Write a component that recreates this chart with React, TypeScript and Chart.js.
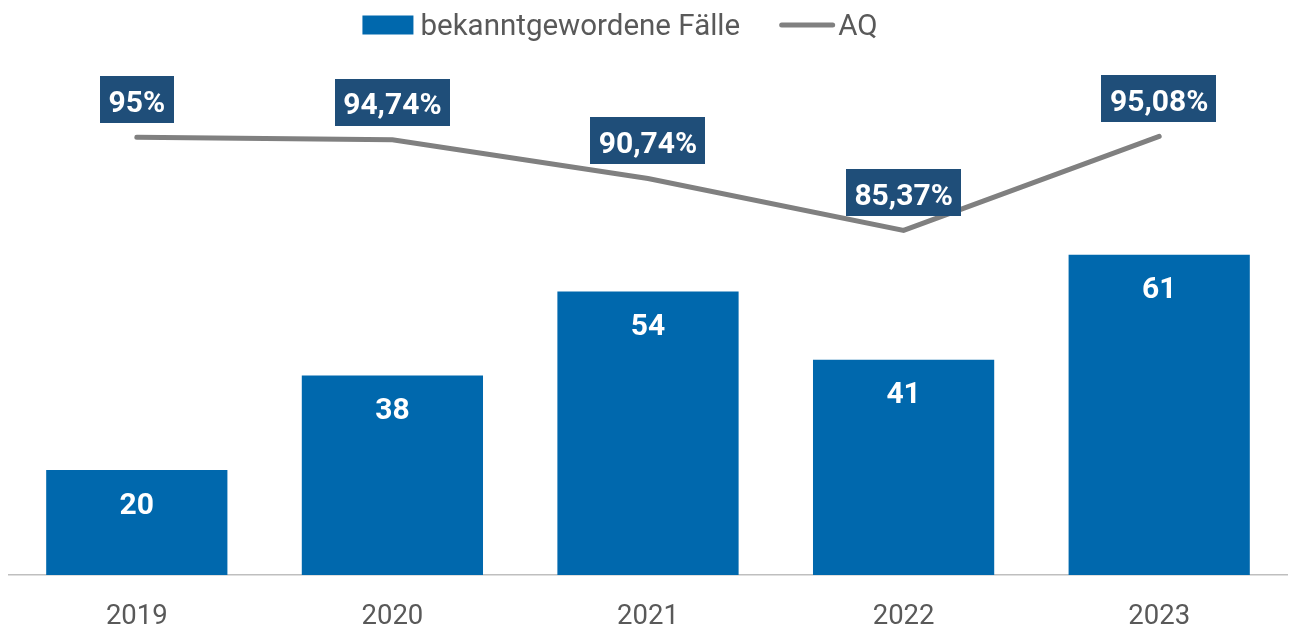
import React, { useEffect, useRef } from "react";
import { Chart, registerables } from "chart.js";

Chart.register(...registerables);

const categories = ["2019", "2020", "2021", "2022", "2023"];
const cases = [20, 38, 54, 41, 61];
const aq = [95, 94.74, 90.74, 85.37, 95.08];
const aqLabels = ["95%", "94,74%", "90,74%", "85,37%", "95,08%"];
const legendLabels = ["bekanntgewordene Fälle", "AQ"];

const BAR = "#0068AD";
const BOX = "#1F4E79";
const LINE = "#808080";
const TEXT = "#595959";
const FONT = "Roboto";

const labelPlugin = {
  id: "valueLabels",
  afterDatasetsDraw(chart: any) {
    const ctx = chart.ctx;
    ctx.save();
    ctx.font = `bold 30px ${FONT}`;
    ctx.textAlign = "center";
    ctx.textBaseline = "alphabetic";
    const barMeta = chart.getDatasetMeta(0);
    barMeta.data.forEach((el: any, i: number) => {
      ctx.fillStyle = "#FFFFFF";
      ctx.fillText(String(cases[i]), el.x, el.y + 33 + 10.6);
    });
    const lineMeta = chart.getDatasetMeta(1);
    lineMeta.data.forEach((el: any, i: number) => {
      const t = aqLabels[i];
      const w = ctx.measureText(t).width + 17;
      const h = 47;
      const bottom = el.y - 14;
      const top = bottom - h;
      ctx.fillStyle = BOX;
      ctx.fillRect(Math.round(el.x - w / 2), Math.round(top), Math.round(w), h);
      ctx.fillStyle = "#FFFFFF";
      ctx.fillText(t, el.x, top + h / 2 + 1.5 + 10.6);
    });
    ctx.restore();
  },
};

const legendPlugin = {
  id: "customLegend",
  afterDraw(chart: any) {
    const ctx = chart.ctx;
    ctx.save();
    ctx.font = `29.5px ${FONT}`;
    ctx.textBaseline = "alphabetic";
    ctx.textAlign = "left";
    const w1 = ctx.measureText(legendLabels[0]).width;
    const w2 = ctx.measureText(legendLabels[1]).width;
    const rectW = 51;
    const total = rectW + 7 + w1 + 39 + 56 + 3 + w2;
    let x = 620 - total / 2;
    const baseline = 34.5;
    ctx.fillStyle = BAR;
    ctx.fillRect(x, 15.5, rectW, 19);
    x += rectW + 7;
    ctx.fillStyle = TEXT;
    ctx.fillText(legendLabels[0], x, baseline);
    x += w1 + 39;
    ctx.strokeStyle = LINE;
    ctx.lineWidth = 5;
    ctx.lineCap = "round";
    ctx.beginPath();
    ctx.moveTo(x + 2.5, 25);
    ctx.lineTo(x + 56 - 2.5, 25);
    ctx.stroke();
    x += 56 + 3;
    ctx.fillStyle = TEXT;
    ctx.fillText(legendLabels[1], x, baseline);
    ctx.restore();
  },
};

export default function App() {
  const ref = useRef<HTMLCanvasElement | null>(null);

  useEffect(() => {
    if (!ref.current) return;
    const chart = new Chart(ref.current, {
      type: "bar",
      data: {
        labels: categories,
        datasets: [
          {
            type: "bar",
            label: legendLabels[0],
            data: cases,
            backgroundColor: BAR,
            borderWidth: 0,
            barPercentage: 0.709,
            categoryPercentage: 1,
            yAxisID: "y",
            order: 2,
          },
          {
            type: "line",
            label: legendLabels[1],
            data: aq,
            borderColor: LINE,
            backgroundColor: LINE,
            borderWidth: 5,
            borderCapStyle: "round",
            borderJoinStyle: "miter",
            pointRadius: 0,
            pointHoverRadius: 0,
            tension: 0,
            fill: false,
            yAxisID: "y2",
            order: 1,
          },
        ] as any,
      },
      options: {
        animation: false,
        responsive: false,
        maintainAspectRatio: false,
        events: [],
        layout: { padding: { top: 50, left: 9, right: 4, bottom: 0 } },
        plugins: {
          legend: { display: false },
          tooltip: { enabled: false },
          title: { display: false },
        },
        scales: {
          x: {
            grid: { display: false, drawTicks: false },
            border: { display: true, color: "#BFBFBF", width: 1.5 },
            ticks: {
              color: TEXT,
              font: { family: FONT, size: 27.5 },
              padding: 26,
            },
            afterFit: (s: any) => {
              s.height = 57;
            },
          },
          y: { display: false, min: 0, max: 100 },
          y2: { display: false, min: 49.8, max: 104 },
        },
      } as any,
      plugins: [labelPlugin, legendPlugin],
    });
    return () => chart.destroy();
  }, []);

  return (
    <div style={{ position: "absolute", left: 0, top: 0, width: 1291, height: 632, background: "#FFFFFF" }}>
      <canvas ref={ref} width={1291} height={632} style={{ display: "block" }} />
    </div>
  );
}
